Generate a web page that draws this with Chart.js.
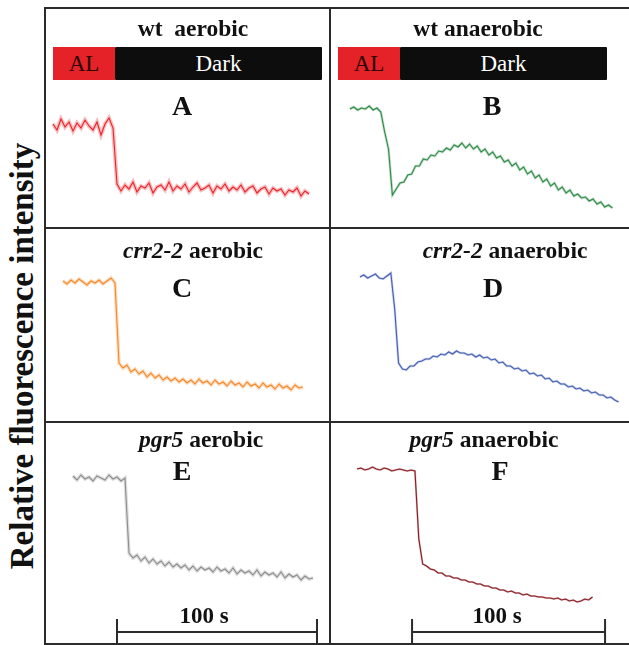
<!DOCTYPE html>
<html>
<head>
<meta charset="utf-8">
<script src="https://cdn.jsdelivr.net/npm/chart.js@4"></script>
<style>
    body { margin: 0; background: #fff; }
    #fig { position: relative; width: 629px; height: 645px; overflow: hidden;
           font-family: "Liberation Serif", "Times New Roman", serif; color: #111; }
    .ln { position: absolute; background: #2b2b2b; }
    canvas { position: absolute; }
    .txt { position: absolute; white-space: nowrap; transform: translateX(-50%); line-height: 1; font-weight: bold; }
    .bar { position: absolute; height: 33px; display: flex; font-size: 23px; }
    .bar div { display: flex; align-items: center; justify-content: center; }
    .al { background: #e42228; color: #2a0505; }
    .dk { background: #0d0d0d; color: #fff; flex: 1; border-radius: 1px; }
    #ylab { position: absolute; left: 22px; top: 356px; white-space: nowrap; font-size: 33px; font-weight: bold;
            line-height: 1; transform: translate(-50%, -50%) rotate(-90deg); }
</style>
</head>
<body>
<div id="fig">
    <div id="ylab">Relative fluorescence intensity</div>
</div>
<script>
// Fluorescence traces, one sample every 2 s (arbitrary units)
var sampleStep = 2;

var wtAerobic = [103, 97, 108, 100, 105, 96, 104, 99, 107, 101, 97, 105, 92, 103, 109, 99,
    43, 36, 42, 38, 45, 35, 41, 39, 44, 34, 40, 42, 37, 45, 36, 41, 38, 43, 35, 40, 44, 37, 39, 42, 34,
    41, 38, 43, 36, 40, 37, 42, 35, 39, 41, 34, 38, 40, 33, 39, 36, 38, 32, 37, 35, 39, 31, 36, 33];

var wtAnaerobic = [118, 120, 117, 119, 118, 121, 117, 119, 115, 95, 78, 32, 38, 44, 45, 52, 53, 61, 61,
    68, 67, 72, 71, 76, 75, 79, 77, 82, 80, 84, 79, 83, 78, 81, 75, 78, 72, 75, 69, 71, 65, 67, 61, 64,
    57, 60, 53, 56, 49, 52, 45, 48, 41, 44, 37, 40, 34, 37, 31, 33, 29, 30, 26, 28, 23, 25, 20, 22, 19];

var crrAerobic = [140, 137, 141, 138, 142, 139, 136, 140, 138, 141, 137, 140, 143, 138,
    58, 53, 56, 49, 52, 47, 50, 44, 48, 43, 46, 41, 44, 40, 43, 39, 42, 38, 41, 37, 42, 38, 40, 36,
    41, 37, 39, 35, 40, 36, 38, 34, 39, 35, 37, 33, 38, 34, 36, 32, 37, 33, 35, 31, 36, 33, 34];

var crrAnaerobic = [144, 146, 143, 145, 147, 143, 142, 145, 148,
    112, 58, 52, 51, 55, 55, 59, 60, 62, 62, 65, 64, 67, 66, 69, 67, 70, 68, 68, 66,
    67, 64, 66, 63, 64, 61, 62, 58, 59, 55, 55, 52, 53, 50, 51, 47, 48, 45, 46, 42,
    43, 39, 40, 37, 37, 34, 35, 32, 33, 30, 31, 28, 29, 26, 26, 23, 24, 21, 19];

var pgrAerobic = [167, 163, 168, 164, 166, 162, 167, 165, 163, 168, 164, 166, 162, 165,
    90, 85, 88, 82, 86, 80, 84, 79, 82, 77, 81, 76, 79, 75, 78, 73, 77, 72, 76, 73, 75, 71, 76, 72,
    74, 70, 75, 69, 73, 70, 72, 68, 73, 67, 71, 68, 70, 66, 71, 65, 69, 66, 68, 63, 67, 64, 65];

var pgrAnaerobic = [174, 175, 173, 174, 176, 174, 173, 175, 174, 172, 173, 174, 173, 172, 173, 172,
    104, 79, 77, 74, 73, 70, 70, 67, 67, 65, 65, 63, 63, 61, 61, 59, 59, 57, 57, 55, 55, 53, 53, 51,
    52, 50, 50, 48, 49, 47, 47, 46, 46, 45, 45, 44, 45, 43, 44, 42, 43, 41, 42, 44, 43, 46];

// 100 s scale bars (start time, s)
var scaleBarE = 22;
var scaleBarF = 28.5;
var scaleBarLength = 100;

var fig = document.getElementById('fig');

function addDiv(cls, l, t, w, h) {
    var d = document.createElement('div');
    d.className = cls;
    d.style.left = l + 'px'; d.style.top = t + 'px';
    if (w != null) d.style.width = w + 'px';
    if (h != null) d.style.height = h + 'px';
    fig.appendChild(d);
    return d;
}

function label(html, cx, base, size) {
    var d = document.createElement('div');
    d.className = 'txt';
    d.style.fontSize = size + 'px';
    d.style.left = cx + 'px';
    d.style.top = (base - 0.8375 * size) + 'px';
    d.innerHTML = html;
    fig.appendChild(d);
}

// frame
addDiv('ln', 44, 7, 585, 2);
addDiv('ln', 44, 227, 585, 2);
addDiv('ln', 44, 421, 585, 2);
addDiv('ln', 44, 643, 585, 2);
addDiv('ln', 44, 7, 2, 638);
addDiv('ln', 329, 7, 2, 638);

// AL / Dark bars
[[53, 62, 269], [338, 62, 269]].forEach(function (b) {
    var bar = addDiv('bar', b[0], 47, b[2], 33);
    bar.innerHTML = '<div class="al" style="width:' + b[1] + 'px">AL</div><div class="dk">Dark</div>';
});

var scaleBarPlugin = {
    id: 'scaleBar',
    afterDatasetsDraw: function (chart, args, opts) {
        if (opts.start == null) return;
        var ctx = chart.ctx;
        var a = chart.scales.x.getPixelForValue(opts.start);
        var b = chart.scales.x.getPixelForValue(opts.start + opts.length);
        var bottom = chart.chartArea.bottom;
        ctx.save();
        ctx.strokeStyle = '#2b2b2b';
        ctx.lineWidth = 2;
        ctx.beginPath();
        ctx.moveTo(a, bottom - 24); ctx.lineTo(a, bottom);
        ctx.moveTo(b, bottom - 24); ctx.lineTo(b, bottom);
        ctx.moveTo(a, bottom - 11); ctx.lineTo(b, bottom - 11);
        ctx.stroke();
        ctx.restore();
    }
};

// band = width of the soft noise halo drawn under each trace
var panels = [
    { values: wtAerobic,    color: '232,37,43',   band: 4,   x: 46,  y: 9,   w: 283, h: 218, pxs: 2,    xMin: -3.5 },
    { values: wtAnaerobic,  color: '46,139,71',   band: 2.6, x: 331, y: 9,   w: 298, h: 218, pxs: 1.93, xMin: -9.8 },
    { values: crrAerobic,   color: '245,137,42',  band: 3.5, x: 46,  y: 229, w: 283, h: 192, pxs: 2,    xMin: -8.5 },
    { values: crrAnaerobic, color: '68,96,181',   band: 2.4, x: 331, y: 229, w: 298, h: 192, pxs: 1.93, xMin: -15 },
    { values: pgrAerobic,   color: '141,141,141', band: 3.5, x: 46,  y: 423, w: 283, h: 220, pxs: 2,    xMin: -13.5, bar: scaleBarE },
    { values: pgrAnaerobic, color: '138,27,34',   band: 2,   x: 331, y: 423, w: 298, h: 220, pxs: 1.93, xMin: -13.5, bar: scaleBarF }
];

panels.forEach(function (p) {
    var canvas = document.createElement('canvas');
    canvas.width = p.w; canvas.height = p.h;
    canvas.style.left = p.x + 'px'; canvas.style.top = p.y + 'px';
    fig.appendChild(canvas);

    var points = p.values.map(function (v, i) { return { x: i * sampleStep, y: v }; });

    new Chart(canvas, {
        type: 'line',
        data: {
            datasets: [
                { data: points, borderColor: 'rgba(' + p.color + ',0.3)', borderWidth: p.band, pointRadius: 0, tension: 0 },
                { data: points, borderColor: 'rgb(' + p.color + ')', borderWidth: 1.1, pointRadius: 0, tension: 0 }
            ]
        },
        options: {
            responsive: false,
            animation: false,
            layout: { padding: 0 },
            plugins: {
                legend: { display: false },
                tooltip: { enabled: false },
                scaleBar: { start: p.bar, length: scaleBarLength }
            },
            scales: {
                x: { type: 'linear', display: false, min: p.xMin, max: p.xMin + p.w / p.pxs },
                y: { display: false, min: 0, max: p.h }
            }
        },
        plugins: [scaleBarPlugin]
    });
});

// titles and panel letters
label('wt&nbsp; aerobic', 193, 37, 23.5);
label('wt anaerobic', 478, 37, 23.5);
label('<i>crr2-2</i> aerobic', 193, 259, 23.5);
label('<i>crr2-2</i> anaerobic', 505, 259, 23.5);
label('<i>pgr5</i> aerobic', 201, 448, 23.5);
label('<i>pgr5</i> anaerobic', 484, 448, 23.5);
label('A', 182, 115, 28);
label('B', 492, 115, 28);
label('C', 182, 297, 28);
label('D', 493, 297, 28);
label('E', 182, 480, 28);
label('F', 500, 480, 28);
label('100 s', 204, 623, 23);
label('100 s', 497, 623, 23);
</script>
</body>
</html>
